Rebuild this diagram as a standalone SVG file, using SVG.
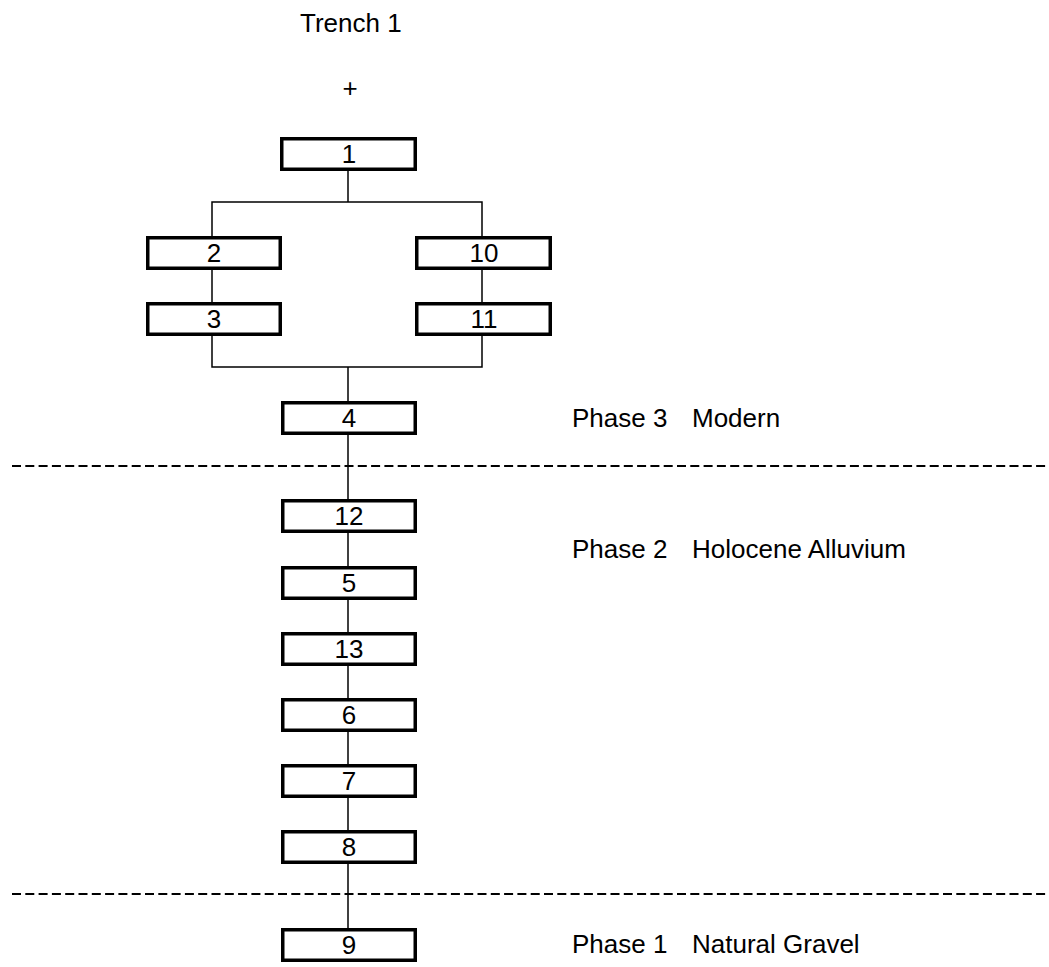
<svg xmlns="http://www.w3.org/2000/svg" width="1049" height="967" viewBox="0 0 1049 967">
<style>
text{font-family:"Liberation Sans",Arial,sans-serif;font-size:26px;fill:#000}
.n rect{fill:#fff;stroke:#000;stroke-width:3.5}
.n text{text-anchor:middle}
.c line,.c polyline{stroke:#000;stroke-width:1.5;fill:none}
.d{stroke:#000;stroke-width:2;stroke-dasharray:9 4.3}
</style>
<rect width="1049" height="967" fill="#fff"/>
<text x="300" y="32">Trench 1</text>
<text x="350" y="97" text-anchor="middle">+</text>
<line class="d" x1="12" y1="466" x2="1049" y2="466"/>
<line class="d" x1="12" y1="894" x2="1049" y2="894"/>
<g class="c" id="connectors">
<line x1="348" y1="171" x2="348" y2="202"/>
<polyline points="212,236 212,202 482,202 482,236"/>
<line x1="212" y1="270" x2="212" y2="302"/>
<line x1="482" y1="270" x2="482" y2="302"/>
<polyline points="212,336 212,367 482,367 482,336"/>
<line x1="348" y1="367" x2="348" y2="401"/>
<line x1="348" y1="434" x2="348" y2="499"/>
<line x1="348" y1="533" x2="348" y2="566"/>
<line x1="348" y1="600" x2="348" y2="632"/>
<line x1="348" y1="666" x2="348" y2="698"/>
<line x1="348" y1="732" x2="348" y2="764"/>
<line x1="348" y1="798" x2="348" y2="830"/>
<line x1="348" y1="864" x2="348" y2="928"/>
</g>
<g class="n" id="n1"><rect x="281.75" y="138.75" width="133.5" height="30.5"/><text x="349" y="163">1</text></g>
<g class="n" id="n2"><rect x="147.75" y="237.75" width="132.5" height="30.5"/><text x="214" y="262">2</text></g>
<g class="n" id="n3"><rect x="147.75" y="303.75" width="132.5" height="30.5"/><text x="214" y="328">3</text></g>
<g class="n" id="n10"><rect x="416.75" y="237.75" width="133.5" height="30.5"/><text x="484" y="262">10</text></g>
<g class="n" id="n11"><rect x="416.75" y="303.75" width="133.5" height="30.5"/><text x="484" y="328">11</text></g>
<g class="n" id="n4"><rect x="282.75" y="402.75" width="132.5" height="30.5"/><text x="349" y="427">4</text></g>
<g class="n" id="n12"><rect x="282.75" y="500.75" width="132.5" height="30.5"/><text x="349" y="525">12</text></g>
<g class="n" id="n5"><rect x="282.75" y="567.75" width="132.5" height="30.5"/><text x="349" y="592">5</text></g>
<g class="n" id="n13"><rect x="282.75" y="633.75" width="132.5" height="30.5"/><text x="349" y="658">13</text></g>
<g class="n" id="n6"><rect x="282.75" y="699.75" width="132.5" height="30.5"/><text x="349" y="724">6</text></g>
<g class="n" id="n7"><rect x="282.75" y="765.75" width="132.5" height="30.5"/><text x="349" y="790">7</text></g>
<g class="n" id="n8"><rect x="282.75" y="831.75" width="132.5" height="30.5"/><text x="349" y="856">8</text></g>
<g class="n" id="n9"><rect x="282.75" y="929.75" width="132.5" height="30.5"/><text x="349" y="954">9</text></g>
<text x="572" y="427">Phase 3</text><text x="692" y="427">Modern</text>
<text x="572" y="558">Phase 2</text><text x="692" y="558">Holocene Alluvium</text>
<text x="572" y="953">Phase 1</text><text x="692" y="953">Natural Gravel</text>
</svg>
